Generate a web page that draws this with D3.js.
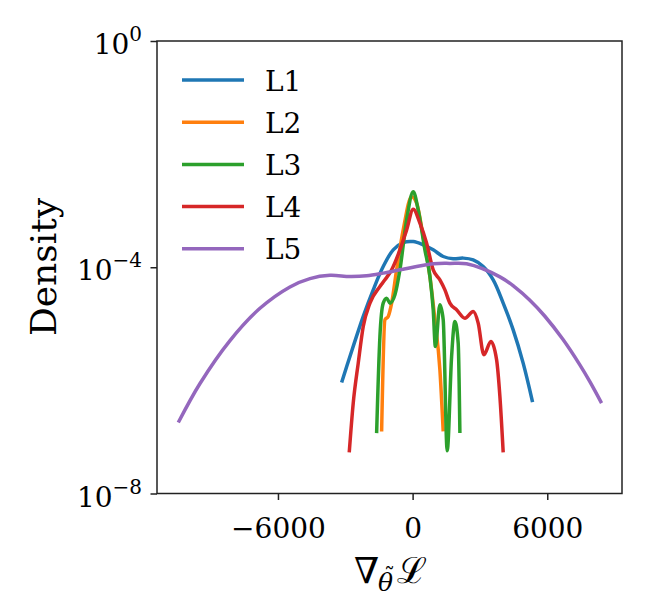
<!DOCTYPE html>
<html>
<head>
<meta charset="utf-8">
<script src="https://cdn.jsdelivr.net/npm/d3@7"></script>
<style>
  html, body { margin: 0; padding: 0; background: #fff; }
  svg { display: block; }
  text { font-family: "DejaVu Serif", serif; fill: #000; }
</style>
</head>
<body>
<svg id="chart" width="652" height="612"></svg>
<script>
// ---- data ----
const seriesNames = ["L1", "L2", "L3", "L4", "L5"];
const seriesColors = ["#1f77b4", "#ff7f0e", "#2ca02c", "#d62728", "#9467bd"];

const L1x = [-3163,-2793,-2200,-1755,-1310,-864,-419,27,472,918,1363,1808,2254,2699,3145,3590,4036,4481,4926,5345];
const L1y = [9.2e-7,2.64e-6,1.35e-5,3.99e-5,1.03e-4,2.03e-4,2.73e-4,2.84e-4,2.49e-4,2.03e-4,1.55e-4,1.41e-4,1.45e-4,1.35e-4,1.03e-4,5.99e-5,2.32e-5,7.83e-6,2.02e-6,4.14e-7];

const L2x = [-1381,-1234,-1087,-935,-713,-419,-45,178,472,771,993,1216,1363];
const L2y = [1.25e-7,1.18e-5,1.35e-5,2.32e-5,9.0e-5,4.58e-4,1.77e-3,1.36e-3,3.48e-4,6.85e-5,1.18e-5,1.54e-6,1.25e-7];

const L3x = [-1604,-1457,-1310,-1158,-1011,-788,-566,-267,27,249,548,771,918,1015,1216,1363,1541,1737,1884,2031,2107];
const L3y = [1.17e-7,5.97e-6,2.32e-5,2.84e-5,2.32e-5,3.25e-5,9.0e-5,6.88e-4,2.17e-3,1.03e-3,2.03e-4,6.85e-5,1.77e-5,3.97e-6,2.17e-5,1.18e-5,5.7e-8,2.64e-6,1.10e-5,4.56e-6,1.17e-7];

const L4x = [-2824,-2646,-2423,-2200,-1902,-1457,-1234,-935,-566,-267,27,325,624,918,1216,1439,1661,1960,2330,2699,2922,3176,3488,3742,3889,4036];
const L4y = [5.32e-8,3.97e-7,2.02e-6,8.95e-6,2.32e-5,4.56e-5,5.99e-5,9.0e-5,2.03e-4,4.58e-4,1.06e-3,6.01e-4,2.67e-4,9.0e-5,5.99e-5,3.99e-5,2.32e-5,1.77e-5,1.26e-5,1.65e-5,1.03e-5,2.83e-6,4.86e-6,2.31e-6,5.19e-7,5.32e-8];

const L5x = [-10441,-9474,-8138,-6802,-5466,-4575,-3684,-2793,-2049,-1310,-566,918,1661,2405,3889,4557,5225,5893,6695,7452,7898,8419];
const L5y = [1.80e-7,8.8e-7,5.05e-6,1.88e-5,4.49e-5,6.31e-5,7.19e-5,6.85e-5,7.05e-5,7.87e-5,9.0e-5,1.15e-4,1.17e-4,1.15e-4,6.77e-5,4.45e-5,2.61e-5,1.36e-5,5.32e-6,1.88e-6,9.5e-7,3.97e-7];

const xTickValues = [-6000, 0, 6000];
const yTickValues = [1e0, 1e-4, 1e-8];
const yTickExponents = ["0", "\u22124", "\u22128"];
const yLabel = "Density";

// ---- layout ----
const svg = d3.select("#chart");
const mLeft = 157, mRight = 622, mTop = 41, mBottom = 493.5;

const x = d3.scaleLinear().domain([-11390, 9330]).range([mLeft, mRight]);
const y = d3.scaleLog().domain([1e-8, 1]).range([mBottom, mTop]);

const series = [
  {name: seriesNames[0], xs: L1x, ys: L1y, curve: d3.curveCatmullRom.alpha(0.5)},
  {name: seriesNames[1], xs: L2x, ys: L2y, curve: d3.curveMonotoneX},
  {name: seriesNames[2], xs: L3x, ys: L3y, curve: d3.curveMonotoneX},
  {name: seriesNames[3], xs: L4x, ys: L4y, curve: d3.curveMonotoneX},
  {name: seriesNames[4], xs: L5x, ys: L5y, curve: d3.curveCatmullRom.alpha(0.5)}
];

series.forEach((s, i) => {
  const pts = s.xs.map((v, j) => [v, s.ys[j]]);
  const line = d3.line()
    .x(d => x(d[0]))
    .y(d => y(d[1]))
    .curve(s.curve);
  svg.append("path")
    .attr("d", line(pts))
    .attr("fill", "none")
    .attr("stroke", seriesColors[i])
    .attr("stroke-width", 3.5)
    .attr("stroke-linejoin", "round")
    .attr("stroke-linecap", "butt");
});

// frame
svg.append("rect")
  .attr("x", mLeft).attr("y", mTop)
  .attr("width", mRight - mLeft).attr("height", mBottom - mTop)
  .attr("fill", "none").attr("stroke", "#222").attr("stroke-width", 1.5);

// x axis
const xAxis = d3.axisBottom(x)
  .tickValues(xTickValues)
  .tickSize(6.5)
  .tickPadding(8)
  .tickFormat(d => d < 0 ? "\u2212" + Math.abs(d) : String(d));
const gx = svg.append("g").attr("transform", `translate(0,${mBottom})`).call(xAxis);
gx.select(".domain").remove();
gx.selectAll(".tick line").attr("stroke", "#222").attr("stroke-width", 1.5);
gx.selectAll(".tick text")
  .attr("font-family", "DejaVu Serif")
  .attr("font-size", 28)
  .attr("fill", "#000")
  .attr("dy", null)
  .attr("y", 44);

// y axis
const yAxis = d3.axisLeft(y)
  .tickValues(yTickValues)
  .tickSize(6.5)
  .tickFormat(() => "");
const gy = svg.append("g").attr("transform", `translate(${mLeft},0)`).call(yAxis);
gy.select(".domain").remove();
gy.selectAll(".tick line").attr("stroke", "#222").attr("stroke-width", 1.5);
gy.selectAll(".tick text").each(function(d, i) {
  const t = d3.select(this);
  t.text(null)
    .attr("font-family", "DejaVu Serif")
    .attr("font-size", 28)
    .attr("fill", "#000")
    .attr("x", -15)
    .attr("dy", null)
    .attr("y", 12.5)
    .attr("text-anchor", "end");
  t.append("tspan").text("10");
  t.append("tspan").attr("font-size", 20).attr("dy", -13).text(yTickExponents[i]);
});

// x label: nabla, subscript theta-tilde, script L (one text element)
const xl = svg.append("text").attr("font-size", 36);
xl.append("tspan").attr("x", 354).attr("y", 583).text("\u2207");
xl.append("tspan").attr("x", 378).attr("y", 591).attr("font-size", 25).attr("font-style", "italic").text("\u03B8");
xl.append("tspan").attr("x", 384).attr("y", 584).attr("font-size", 22).text("\u02DC");
xl.append("tspan").attr("x", 397).attr("y", 583).text("\u2112");

// y label
svg.append("text")
  .attr("transform", "translate(56,267) rotate(-90)")
  .attr("text-anchor", "middle")
  .attr("font-size", 36)
  .text(yLabel);

// legend
const legendY0 = 80, legendStep = 42.2;
series.forEach((s, i) => {
  const ly = legendY0 + i * legendStep;
  svg.append("line")
    .attr("x1", 182).attr("x2", 244)
    .attr("y1", ly).attr("y2", ly)
    .attr("stroke", seriesColors[i])
    .attr("stroke-width", 3.5);
  svg.append("text")
    .attr("x", 265).attr("y", ly + 10.5)
    .attr("font-size", 28)
    .text(s.name);
});
</script>
</body>
</html>
